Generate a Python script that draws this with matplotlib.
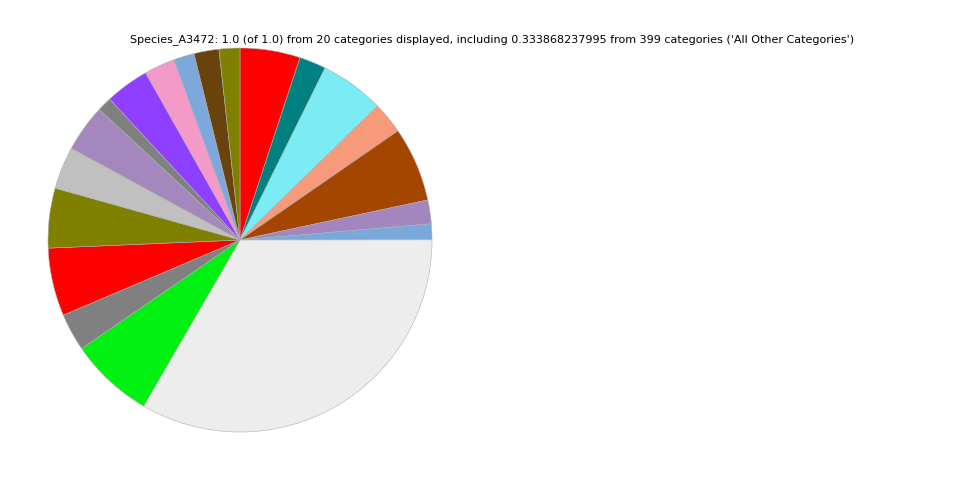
import matplotlib
matplotlib.use("Agg")
import matplotlib.pyplot as plt

TITLE = ("Species_A3472: 1.0 (of 1.0) from 20 categories displayed, including "
         "0.333868237995 from 399 categories ('All Other Categories')")

# slice fractions, clockwise from 12 o'clock
fracs = [0.0506, 0.0225, 0.0540, 0.0267, 0.0628, 0.0200, 0.0133, 0.333868,
         0.0707, 0.0317, 0.0572, 0.0503, 0.0358, 0.0397, 0.0122, 0.0370,
         0.0258, 0.0175, 0.0210, 0.0175]
colors = ['#ff0000', '#008080', '#7bebf4', '#f69a7b', '#a54600', '#a386be',
          '#7ba8da', '#ededed', '#00f011', '#808080', '#ff0000', '#808000',
          '#c0c0c0', '#a387bd', '#808080', '#8e3fff', '#f49ac8', '#7ca8dc',
          '#6a420b', '#808000']

fig = plt.figure(figsize=(9.6, 4.8), dpi=100)
ax = fig.add_axes([0.05, 0.1, 0.4, 0.8])
ax.pie(fracs, colors=colors, startangle=90, counterclock=False,
       wedgeprops=dict(edgecolor='#b0b0b0', linewidth=0.4))
ax.set_xlim(-1.0, 1.0)
ax.set_ylim(-1.0, 1.0)
ax.set_aspect('equal')
ax.axis('off')

fig.text(492 / 960, 1 - 40 / 480, TITLE, ha='center', va='center', fontsize=8)

fig.savefig('out.png', dpi=100, facecolor='white')
